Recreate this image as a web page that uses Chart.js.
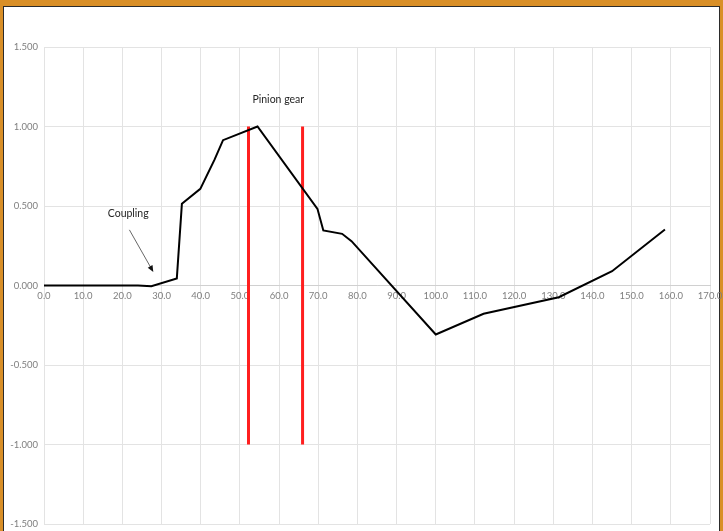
<!DOCTYPE html>
<html>
<head>
<meta charset="utf-8">
<script src="https://cdn.jsdelivr.net/npm/chart.js@4.4.1/dist/chart.umd.min.js"></script>
<style>
  html, body { margin: 0; padding: 0; }
  body { width: 723px; height: 531px; background: #d98f27; position: relative; overflow: hidden; }
  .frame { position: absolute; left: 3px; top: 6px; width: 715px; height: 530px; border: 1px solid #2b2b2b; background: #fff; }
  .wrap { position: absolute; left: 0; top: 0; width: 723px; height: 531px; }
</style>
</head>
<body>
<div class="frame"></div>
<div class="wrap"><canvas id="chart"></canvas></div>
<script>
// curve (distance, value)
const curveX = [0, 24, 27.4, 33.9, 35.2, 39.9, 43.5, 45.7, 54.5, 69.8, 71.3, 76.1, 78.5, 100, 112.2, 131.4, 145, 158.5];
const curveY = [0, 0, -0.005, 0.044, 0.514, 0.608, 0.79, 0.914, 1.0, 0.482, 0.346, 0.325, 0.279, -0.308, -0.178, -0.074, 0.09, 0.352];

// red marker lines (pinion gear)
const markerX = [52.2, 66];
const markerTop = 1.0;
const markerBottom = -1.0;

// text labels
const notes = [
  { text: 'Pinion gear', x: 59.8, y: 1.17 },
  { text: 'Coupling', x: 21.5, y: 0.455 }
];
// arrow from label to coupling point
const arrowFrom = { x: 21.8, y: 0.35 };
const arrowTo = { x: 27.9, y: 0.085 };

const xMin = 0, xMax = 170, xStep = 10;
const yMin = -1.5, yMax = 1.5, yStep = 0.5;

const curve = curveX.map((x, i) => ({ x: x, y: curveY[i] }));

const datasets = [{
  data: curve,
  showLine: true,
  borderColor: '#000',
  borderWidth: 2,
  pointRadius: 0,
  tension: 0
}];
markerX.forEach(mx => {
  datasets.push({
    data: [{ x: mx, y: markerTop }, { x: mx, y: markerBottom }],
    showLine: true,
    borderColor: '#ff1f1f',
    borderWidth: 3,
    pointRadius: 0
  });
});

const notesPlugin = {
  id: 'notes',
  afterDatasetsDraw(chart) {
    const ctx = chart.ctx;
    const xs = chart.scales.x, ys = chart.scales.y;
    ctx.save();
    ctx.fillStyle = '#262626';
    ctx.font = '10.5px Lato, "Open Sans", sans-serif';
    ctx.textAlign = 'center';
    ctx.textBaseline = 'middle';
    notes.forEach(n => {
      ctx.fillText(n.text, xs.getPixelForValue(n.x), ys.getPixelForValue(n.y));
    });
    // arrow
    const x1 = xs.getPixelForValue(arrowFrom.x), y1 = ys.getPixelForValue(arrowFrom.y);
    const x2 = xs.getPixelForValue(arrowTo.x), y2 = ys.getPixelForValue(arrowTo.y);
    const ang = Math.atan2(y2 - y1, x2 - x1);
    ctx.strokeStyle = '#404040';
    ctx.lineWidth = 0.8;
    ctx.beginPath();
    ctx.moveTo(x1, y1);
    ctx.lineTo(x2 - 5 * Math.cos(ang), y2 - 5 * Math.sin(ang));
    ctx.stroke();
    ctx.fillStyle = '#111';
    ctx.beginPath();
    ctx.moveTo(x2, y2);
    ctx.lineTo(x2 - 7 * Math.cos(ang - 0.4), y2 - 7 * Math.sin(ang - 0.4));
    ctx.lineTo(x2 - 7 * Math.cos(ang + 0.4), y2 - 7 * Math.sin(ang + 0.4));
    ctx.closePath();
    ctx.fill();
    ctx.restore();
  }
};

new Chart(document.getElementById('chart'), {
  type: 'scatter',
  data: { datasets: datasets },
  options: {
    responsive: true,
    maintainAspectRatio: false,
    animation: false,
    layout: { padding: { left: 4, top: 47, right: 13, bottom: 7 } },
    plugins: { legend: { display: false }, tooltip: { enabled: false } },
    scales: {
      x: {
        type: 'linear',
        position: { y: 0 },
        min: xMin,
        max: xMax,
        // axis sits on y = 0, so it should not take room at the bottom
        afterFit(scale) {
          scale.height = 0;
          scale.paddingLeft = 0;
          scale.paddingRight = 0;
        },
        ticks: {
          stepSize: xStep,
          color: '#7f7f7f',
          font: { family: 'Lato, "Open Sans", sans-serif', size: 9.5 },
          padding: 5,
          callback: v => v.toFixed(1)
        },
        grid: { color: '#e3e3e3', lineWidth: 1, drawTicks: false },
        border: { display: true, color: '#d0d0d0' }
      },
      y: {
        type: 'linear',
        min: yMin,
        max: yMax,
        afterFit(scale) {
          scale.width = 40;
          scale.paddingTop = 0;
          scale.paddingBottom = 0;
        },
        ticks: {
          stepSize: yStep,
          color: '#7f7f7f',
          font: { family: 'Lato, "Open Sans", sans-serif', size: 9.5 },
          padding: 6,
          callback: v => v.toFixed(3)
        },
        grid: { color: '#e3e3e3', lineWidth: 1, drawTicks: false },
        border: { display: false }
      }
    }
  },
  plugins: [notesPlugin]
});
</script>
</body>
</html>
